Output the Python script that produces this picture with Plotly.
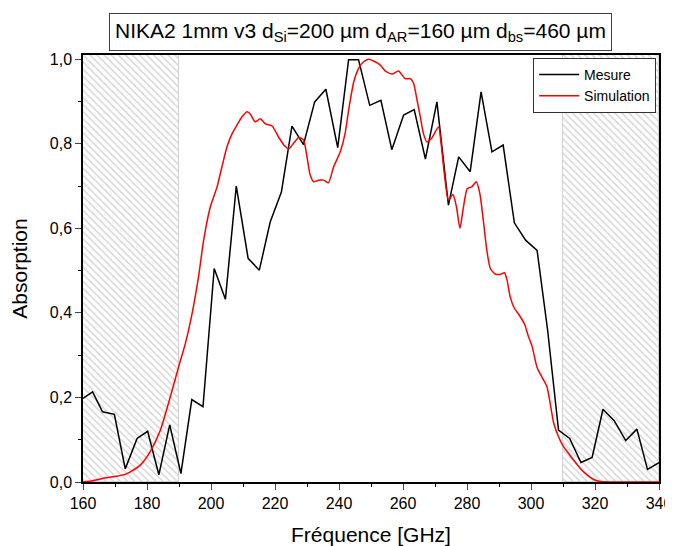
import plotly.graph_objects as go

# Mesure (black)
freq_mesure = [160.0, 163.0, 166.1, 169.8, 173.2, 176.9, 180.2, 183.7, 187.1, 190.6,
               194.0, 197.5, 201.0, 204.5, 207.9, 211.6, 215.1, 218.5, 222.0, 225.3,
               228.9, 232.4, 235.9, 239.6, 243.0, 246.1, 249.6, 253.1, 256.5, 260.2,
               263.5, 267.0, 270.6, 274.2, 277.4, 281.0, 284.4, 287.8, 291.3, 294.8,
               298.3, 301.9, 305.2, 308.6, 312.1, 315.6, 319.1, 322.5, 326.0, 329.6,
               333.1, 336.4, 340.0]
abs_mesure = [0.198, 0.213, 0.166, 0.160, 0.031, 0.103, 0.120, 0.017, 0.135, 0.020,
              0.195, 0.178, 0.505, 0.432, 0.700, 0.529, 0.501, 0.615, 0.686, 0.842,
              0.798, 0.899, 0.929, 0.791, 0.999, 0.999, 0.891, 0.903, 0.786, 0.868,
              0.881, 0.764, 0.899, 0.655, 0.769, 0.734, 0.923, 0.781, 0.797, 0.613,
              0.572, 0.548, 0.359, 0.123, 0.103, 0.046, 0.058, 0.172, 0.145, 0.098,
              0.125, 0.030, 0.046]

# Simulation (red)
freq_simu = [160.0, 163.0, 166.4, 170.0, 173.2, 174.8, 177.9, 181.0, 184.2, 187.3,
             189.9, 192.0, 194.1, 196.1, 197.7, 199.8, 201.9, 203.4, 205.0, 206.6,
             208.1, 209.7, 211.3, 212.3, 213.8, 215.4, 217.0, 219.1, 221.1, 222.7,
             224.3, 225.8, 227.4, 228.9, 230.0, 231.0, 232.1, 233.6, 235.2, 236.7,
             238.3, 240.4, 241.9, 243.0, 244.6, 246.1, 247.7, 249.3, 251.3, 252.9,
             254.5, 256.6, 258.6, 260.7, 262.3, 263.3, 264.4, 265.4, 266.4, 267.5,
             269.1, 271.1, 271.9, 272.9, 274.2, 275.6, 276.7, 277.8, 278.9, 280.1,
             281.5, 282.9, 284.0, 285.2, 286.2, 287.3, 288.8, 290.4, 291.7, 292.5,
             293.5, 294.8, 296.3, 298.0, 299.2, 300.3, 301.9, 303.5, 305.0, 306.0,
             307.1, 308.6, 310.2, 311.7, 313.3, 315.4, 317.5, 319.6, 321.7, 325.0,
             330.0, 335.0, 340.0]
abs_simu = [0.000, 0.003, 0.009, 0.013, 0.018, 0.024, 0.040, 0.072, 0.123, 0.202,
            0.273, 0.328, 0.399, 0.485, 0.572, 0.651, 0.698, 0.745, 0.793, 0.824,
            0.844, 0.864, 0.876, 0.870, 0.852, 0.859, 0.847, 0.842, 0.816, 0.798,
            0.788, 0.801, 0.815, 0.809, 0.769, 0.726, 0.710, 0.714, 0.714, 0.708,
            0.745, 0.781, 0.824, 0.879, 0.946, 0.978, 0.994, 1.000, 0.994, 0.986,
            0.972, 0.965, 0.972, 0.954, 0.954, 0.943, 0.903, 0.864, 0.824, 0.804,
            0.815, 0.840, 0.801, 0.730, 0.667, 0.680, 0.651, 0.600, 0.651, 0.694,
            0.698, 0.710, 0.683, 0.612, 0.548, 0.505, 0.492, 0.491, 0.495, 0.478,
            0.438, 0.411, 0.395, 0.373, 0.344, 0.322, 0.271, 0.247, 0.225, 0.186,
            0.139, 0.107, 0.083, 0.068, 0.052, 0.032, 0.017, 0.006, 0.001, 0.000,
            0.000, 0.000, 0.000]

# zones hachurées (hors bande)
zones_centre = [175, 325]
zones_largeur = [30, 30]
zones_haut = [1.01, 1.01]

fig = go.Figure()

fig.add_trace(go.Bar(
    x=zones_centre, y=zones_haut, width=zones_largeur,
    marker=dict(color='white', line=dict(color='#d0d0d0', width=1),
                pattern=dict(shape='\\', fgcolor='#b0b0b0', bgcolor='white',
                             size=5, solidity=0.3)),
    showlegend=False, hoverinfo='skip'))

fig.add_trace(go.Scatter(x=freq_mesure, y=abs_mesure, mode='lines', name='Mesure',
                         line=dict(color='black', width=1.5)))
fig.add_trace(go.Scatter(x=freq_simu, y=abs_simu, mode='lines', name='Simulation',
                         line=dict(color='#ff0000', width=1.5, shape='spline', smoothing=0.6)))

police = 'Arial, Liberation Sans, sans-serif'

# titre encadré
fig.add_annotation(
    text='NIKA2 1mm v3 d<sub>Si</sub>=200 µm d<sub>AR</sub>=160 µm d<sub>bs</sub>=460 µm',
    xref='paper', yref='paper', x=0.481, y=1.009, xanchor='center', yanchor='bottom',
    showarrow=False, font=dict(family=police, size=21, color='black'),
    bordercolor='#404040', borderwidth=1, borderpad=5, bgcolor='white')

# la page ajoute une marge de 8 px autour de la figure
fig.update_layout(
    width=665, height=538,
    margin=dict(l=75, r=14, t=47, b=64, autoexpand=False),
    paper_bgcolor='white', plot_bgcolor='white',
    font=dict(family=police, color='black'),
    separators=', ',
    barmode='overlay', bargap=0,
    legend=dict(x=0.995, y=0.993, xanchor='right', yanchor='top',
                bordercolor='#303030', borderwidth=1, bgcolor='white',
                font=dict(size=14), tracegroupgap=0, itemwidth=40),
    xaxis=dict(range=[160, 340], dtick=20, tick0=160, ticks='outside', ticklen=6,
               tickwidth=1, tickfont=dict(size=16), showgrid=False, zeroline=False,
               showline=True, linecolor='black', linewidth=1.5, mirror=True, automargin=False,
               minor=dict(dtick=10, ticks='outside', ticklen=3, tickcolor='black'),
               title=dict(text='Fréquence [GHz]', font=dict(size=21), standoff=19)),
    yaxis=dict(range=[0, 1.01], dtick=0.2, tickformat='.1f', ticks='outside', ticklen=6,
               tickwidth=1, tickfont=dict(size=16), showgrid=False, zeroline=False,
               showline=True, linecolor='black', linewidth=1.5, mirror=True, automargin=False,
               minor=dict(dtick=0.1, ticks='outside', ticklen=3, tickcolor='black'),
               title=dict(text='Absorption', font=dict(size=21), standoff=16)),
)

fig.write_html('out.html')
